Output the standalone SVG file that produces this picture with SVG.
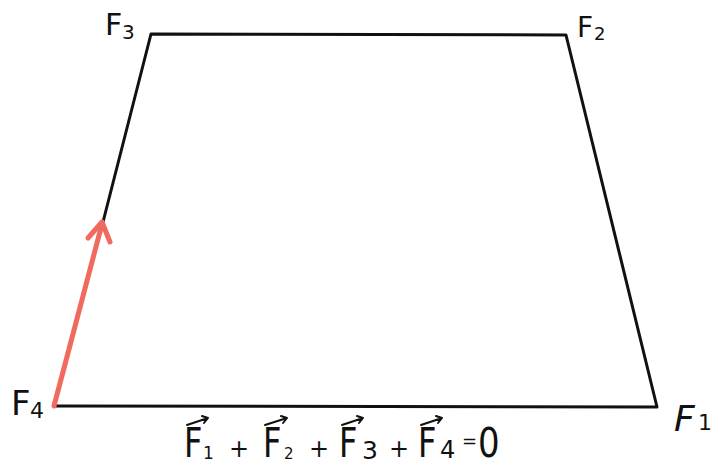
<svg xmlns="http://www.w3.org/2000/svg" width="713" height="466" viewBox="0 0 713 466">
<defs>
<style>
.lbl{font-family:"DejaVu Sans","Liberation Sans",sans-serif;fill:#111;}
.edge{stroke:#111;stroke-width:3;fill:none;stroke-linecap:round;stroke-linejoin:round;}
.vec{stroke:#111;stroke-width:2;fill:none;stroke-linecap:round;stroke-linejoin:round;}
</style>
</defs>
<rect width="713" height="466" fill="#fff"/>
<g id="connectors">
<path class="edge" d="M54,406 L657,407 L566,35 L151,34 L103,222"/>
<path d="M54,406 L102,224" stroke="#f06a60" stroke-width="5" fill="none" stroke-linecap="round"/>
<path d="M88,238 L102,222 L110,242" stroke="#f06a60" stroke-width="5" fill="none" stroke-linecap="round" stroke-linejoin="round"/>
</g>
<g id="F3"><text class="lbl" x="105" y="35" font-size="30">F</text><text class="lbl" x="122" y="39" font-size="20">3</text></g>
<g id="F2"><text class="lbl" x="577" y="37" font-size="28">F</text><text class="lbl" x="594" y="40" font-size="18">2</text></g>
<g id="F4"><text class="lbl" x="11" y="415" font-size="34">F</text><text class="lbl" x="30" y="418" font-size="22">4</text></g>
<g id="F1"><text class="lbl" x="674" y="431" font-size="36" font-style="italic">F</text><text class="lbl" x="698" y="430" font-size="22">1</text></g>
<g id="equation">
<text class="lbl" x="184" y="457" font-size="40" transform="translate(184 0) scale(0.8 1) translate(-184 0)">F</text>
<text class="lbl" x="203" y="459" font-size="17">1</text>
<text class="lbl" x="229" y="457" font-size="24">+</text>
<text class="lbl" x="263" y="457" font-size="40" transform="translate(263 0) scale(0.8 1) translate(-263 0)">F</text>
<text class="lbl" x="284" y="459" font-size="15">2</text>
<text class="lbl" x="309" y="457" font-size="24">+</text>
<text class="lbl" x="339" y="457" font-size="40" transform="translate(339 0) scale(0.8 1) translate(-339 0)">F</text>
<text class="lbl" x="362" y="459" font-size="25">3</text>
<text class="lbl" x="389" y="457" font-size="24">+</text>
<text class="lbl" x="418" y="457" font-size="40" transform="translate(418 0) scale(0.8 1) translate(-418 0)">F</text>
<text class="lbl" x="440" y="458" font-size="24">4</text>
<text class="lbl" x="462" y="447" font-size="18">=</text>
<text class="lbl" x="478" y="457" font-size="40" transform="translate(478 0) scale(0.85 1) translate(-478 0)">0</text>
<path class="vec" d="M187,425 L208,418 M202,416 L208,418 L204,423"/>
<path class="vec" d="M265,425 L287,418 M281,416 L287,418 L283,423"/>
<path class="vec" d="M342,425 L363,418 M357,416 L363,418 L359,423"/>
<path class="vec" d="M421,425 L442,418 M436,416 L442,418 L438,423"/>
</g>
</svg>
